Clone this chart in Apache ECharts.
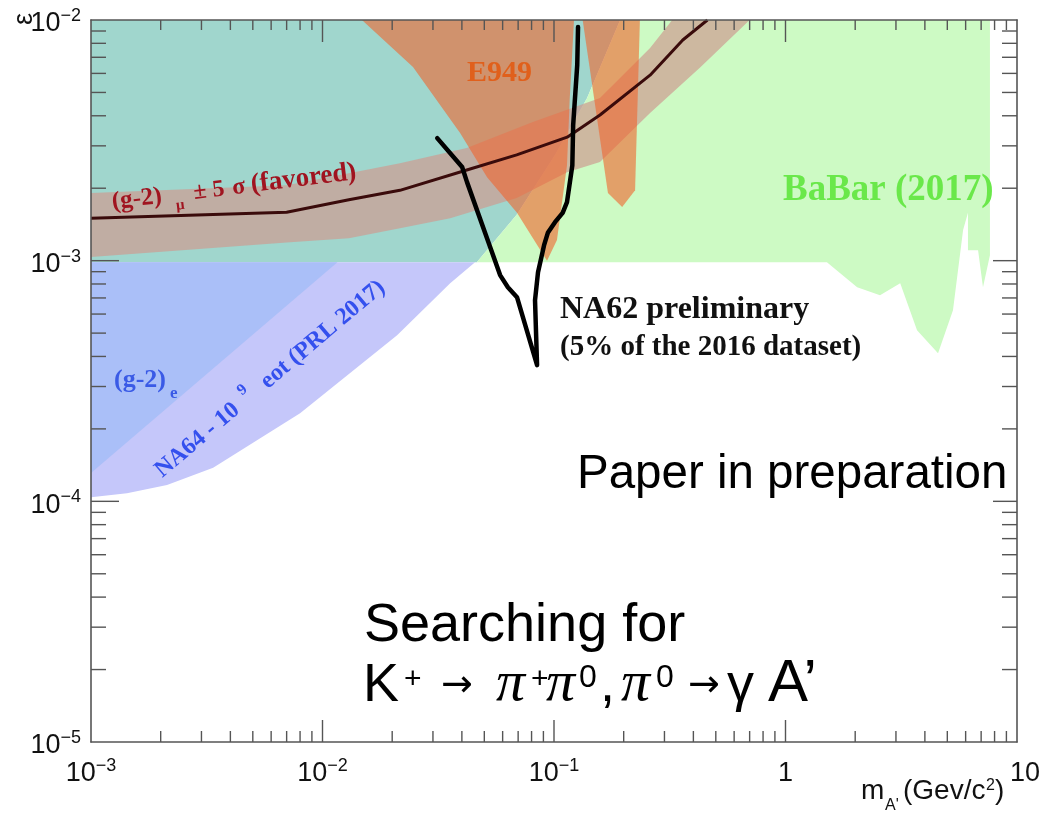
<!DOCTYPE html>
<html>
<head>
<meta charset="utf-8">
<script src="https://cdn.jsdelivr.net/npm/echarts@6/dist/echarts.min.js"></script>
<style>
  html, body { margin: 0; padding: 0; background: #ffffff; }
  #chart { width: 1051px; height: 814px; }
</style>
</head>
<body>
<div id="chart"></div>
<script>
// Dark photon search: kinetic mixing epsilon versus A' mass (GeV/c^2), log-log.

// ---- axes ----
const xRange = [1e-3, 10];
const yRange = [1e-5, 1e-2];
const xMajorTicks = [1e-3, 1e-2, 1e-1, 1, 10];
const xTickLabels = [['10', '−3'], ['10', '−2'], ['10', '−1'], ['1', ''], ['10', '']];
const yMajorTicks = [1e-5, 1e-4, 1e-3, 1e-2];
const yTickLabels = [['10', '−5'], ['10', '−4'], ['10', '−3'], ['10', '−2']];

// ---- excluded regions, [mass, epsilon] ----
const g2muExcluded = [[1e-3, 1e-2], [0.193, 1e-2], [0.139, 4.74e-3], [0.101, 2.75e-3],
  [0.069, 1.55e-3], [0.0464, 0.985e-3], [1e-3, 0.985e-3]];

const babar2017 = [[0.0464, 0.985e-3], [0.069, 1.55e-3], [0.101, 2.75e-3], [0.139, 4.74e-3],
  [0.193, 1e-2], [7.64, 1e-2], [7.64, 1.054e-3], [7.13, 7.76e-4], [6.79, 1.106e-3],
  [6.14, 1.106e-3], [6.14, 1.58e-3], [5.85, 1.34e-3], [5.29, 6.22e-4], [4.56, 4.12e-4],
  [3.70, 5.14e-4], [3.13, 8.06e-4], [2.56, 7.19e-4], [2.04, 7.76e-4], [1.51, 0.985e-3]];

const na64 = [[1e-3, 0.985e-3], [4.56e-2, 0.985e-3], [3.56e-2, 8.06e-4], [2.10e-2, 4.90e-4],
  [8.0e-3, 2.32e-4], [3.37e-3, 1.38e-4], [2.13e-3, 1.17e-4], [1.43e-3, 1.08e-4], [1e-3, 1.04e-4]];

const g2e = [[1e-3, 0.985e-3], [1.16e-2, 0.985e-3], [1e-3, 1.31e-4]];

const e949Main = [[1.48e-2, 1e-2], [2.46e-2, 6.38e-3], [3.93e-2, 3.39e-3], [5.14e-2, 2.22e-3],
  [6.92e-2, 1.58e-3], [9.33e-2, 1.0e-3], [0.103, 1.22e-3], [0.1138, 2.49e-3],
  [0.117, 4.74e-3], [0.122, 1e-2]];

const e949Narrow = [[0.133, 1e-2], [0.171, 1.91e-3], [0.197, 1.67e-3], [0.224, 1.96e-3], [0.235, 1e-2]];

// (g-2)_mu +-5 sigma favoured band and its central curve
const g2muBandUpper = [[1e-3, 1.91e-3], [7.0e-3, 2.06e-3], [1.3e-2, 2.31e-3], [2.16e-2, 2.54e-3],
  [4.2e-2, 2.94e-3], [8.1e-2, 3.77e-3], [0.158, 4.74e-3], [0.26, 7.65e-3], [0.324, 1e-2]];
const g2muBandLower = [[1e-3, 1.035e-3], [7.0e-3, 1.19e-3], [1.3e-2, 1.24e-3], [2.16e-2, 1.365e-3],
  [3.56e-2, 1.50e-3], [6.9e-2, 1.82e-3], [0.114, 2.33e-3], [0.158, 2.57e-3], [0.26, 4.11e-3],
  [0.43, 6.38e-3], [0.70, 1e-2]];
const g2muCentral = [[1e-3, 1.50e-3], [7.0e-3, 1.59e-3], [1.3e-2, 1.79e-3], [2.16e-2, 1.96e-3],
  [4.2e-2, 2.38e-3], [6.9e-2, 2.75e-3], [0.114, 3.26e-3], [0.158, 4.03e-3], [0.26, 5.90e-3],
  [0.36, 8.26e-3], [0.46, 1e-2]];

// NA62 preliminary upper limit
const na62Limit = [[3.13e-2, 3.23e-3], [4.01e-2, 2.45e-3], [4.21e-2, 2.12e-3], [5.35e-2, 1.11e-3],
  [5.85e-2, 8.71e-4], [6.32e-2, 7.76e-4], [6.92e-2, 7.05e-4], [8.45e-2, 3.68e-4],
  [8.28e-2, 6.85e-4], [8.53e-2, 8.96e-4], [9.06e-2, 1.16e-3], [9.42e-2, 1.31e-3],
  [0.101, 1.445e-3], [0.109, 1.58e-3], [0.1138, 1.75e-3], [0.120, 2.49e-3],
  [0.121, 3.66e-3], [0.126, 6.50e-3], [0.127, 9.35e-3]];

// ---- helpers ----
const SANS = 'Liberation Sans';
const SERIF = 'Liberation Serif';
const FRAME = '#555555';

function logTicks(range) {
  const out = [];
  const e0 = Math.round(Math.log10(range[0]));
  const e1 = Math.round(Math.log10(range[1]));
  for (let e = e0; e < e1; e++) {
    for (let m = 1; m <= 9; m++) {
      const v = m * Math.pow(10, e);
      if (v > range[0] && v < range[1]) out.push([v, m === 1 ? 1 : 0]);
    }
  }
  return out;
}

function regionSeries(name, pts, fill, z) {
  return {
    type: 'custom', name, coordinateSystem: 'cartesian2d', z, silent: true, clip: true,
    data: pts,
    renderItem(params, api) {
      if (params.dataIndex !== 0) return null;
      return { type: 'polygon', shape: { points: pts.map(p => api.coord(p)) }, style: { fill } };
    }
  };
}

function labelIndex(list, v) {
  return list.findIndex(t => Math.abs(Math.log10(t) - Math.log10(v)) < 1e-6);
}

function txt(x, base, text, size, o = {}) {
  return {
    type: 'text', x, y: base - 0.31 * size, rotation: o.rotation || 0, z: 50, silent: true,
    style: {
      text, fontSize: size, fontFamily: o.family || SANS, fontWeight: o.weight || 'normal',
      fontStyle: o.italic ? 'italic' : 'normal', fill: o.color || '#000',
      align: o.align || 'left', verticalAlign: 'middle'
    }
  };
}

const labelRich = {
  b: { fontSize: 27, lineHeight: 34, fontFamily: SANS, color: '#111' },
  s: { fontSize: 18, lineHeight: 18, fontFamily: SANS, color: '#111', verticalAlign: 'top' },
  r: { fontSize: 27, lineHeight: 34, fontFamily: SANS, color: '#111', padding: [0, 0, 0, 16] }
};

function fmt(list, labels, v) {
  const i = labelIndex(list, v);
  if (i < 0) return '';
  const p = labels[i];
  if (list === xMajorTicks && i === list.length - 1) return `{r|${p[0]}}`;
  return p[1] ? `{b|${p[0]}}{s|${p[1]}}` : `{b|${p[0]}}`;
}

const chart = echarts.init(document.getElementById('chart'), null, { renderer: 'canvas', width: 1051, height: 814 });

const band = g2muBandUpper.concat(g2muBandLower.slice().reverse());
const xTicks = logTicks(xRange);
const yTicks = logTicks(yRange);

const axisLine = { show: true, lineStyle: { color: FRAME, width: 1.6 } };
const E949_FILL = 'rgba(240,100,45,0.6)';
const G2MU_TEXT = '#a01420';
const NA64_TEXT = '#3450ee';

chart.setOption({
  animation: false,
  backgroundColor: '#ffffff',
  grid: { left: 91, top: 20, width: 926, height: 722 },
  xAxis: [
    {
      type: 'log', logBase: 10, min: xRange[0], max: xRange[1], position: 'bottom', z: 20,
      axisLine, axisTick: { show: false }, splitLine: { show: false }, minorTick: { show: false },
      axisLabel: { margin: 15, formatter: v => fmt(xMajorTicks, xTickLabels, v), rich: labelRich }
    },
    {
      type: 'log', logBase: 10, min: xRange[0], max: xRange[1], position: 'top', z: 20,
      axisLine, axisTick: { show: false }, splitLine: { show: false }, axisLabel: { show: false }
    }
  ],
  yAxis: [
    {
      type: 'log', logBase: 10, min: yRange[0], max: yRange[1], position: 'left', z: 20,
      axisLine, axisTick: { show: false }, splitLine: { show: false }, minorTick: { show: false },
      axisLabel: { margin: 10, padding: [8, 0, 0, 0], formatter: v => fmt(yMajorTicks, yTickLabels, v), rich: labelRich }
    },
    {
      type: 'log', logBase: 10, min: yRange[0], max: yRange[1], position: 'right', z: 20,
      axisLine, axisTick: { show: false }, splitLine: { show: false }, axisLabel: { show: false }
    }
  ],
  series: [
    regionSeries('(g-2)mu excluded', g2muExcluded, '#a0d6cd', 1),
    regionSeries('BaBar (2017)', babar2017, '#cdfac4', 1),
    regionSeries('NA64', na64, '#c5c7fa', 1),
    regionSeries('(g-2)e', g2e, '#aabff8', 1),
    regionSeries('(g-2)mu favoured', band, 'rgba(205,155,145,0.7)', 2),
    regionSeries('E949', e949Main, E949_FILL, 3),
    regionSeries('E949 narrow', e949Narrow, E949_FILL, 3),
    {
      type: 'line', name: '(g-2)mu central', data: g2muCentral, symbol: 'none', z: 4, silent: true,
      lineStyle: { color: '#3a0b0b', width: 3 }
    },
    {
      type: 'line', name: 'NA62 preliminary', data: na62Limit, symbol: 'none', z: 5, silent: true,
      lineStyle: { color: '#000000', width: 4.5, join: 'round', cap: 'round' }
    },
    // log ticks on the bottom and top edges, pointing inward
    {
      type: 'custom', coordinateSystem: 'cartesian2d', z: 21, silent: true, clip: false,
      data: xTicks.map(t => [t[0], yRange[0], t[1]]),
      renderItem(params, api) {
        const v = api.value(0), major = api.value(2) === 1;
        const b = api.coord([v, yRange[0]]), t = api.coord([v, yRange[1]]);
        const st = { stroke: FRAME, lineWidth: 1.4 };
        return {
          type: 'group', children: [
            { type: 'line', shape: { x1: b[0], y1: b[1], x2: b[0], y2: b[1] - (major ? 22 : 11) }, style: st },
            { type: 'line', shape: { x1: t[0], y1: t[1], x2: t[0], y2: t[1] + (major ? 22 : 10) }, style: st }
          ]
        };
      }
    },
    // log ticks on the left and right edges, pointing inward
    {
      type: 'custom', coordinateSystem: 'cartesian2d', z: 21, silent: true, clip: false,
      data: yTicks.map(t => [xRange[0], t[0], t[1]]),
      renderItem(params, api) {
        const v = api.value(1), major = api.value(2) === 1;
        const l = api.coord([xRange[0], v]), r = api.coord([xRange[1], v]);
        const st = { stroke: FRAME, lineWidth: 1.4 };
        return {
          type: 'group', children: [
            { type: 'line', shape: { x1: l[0], y1: l[1], x2: l[0] + (major ? 28 : 15), y2: l[1] }, style: st },
            { type: 'line', shape: { x1: r[0], y1: r[1], x2: r[0] - (major ? 24 : 15), y2: r[1] }, style: st }
          ]
        };
      }
    }
  ],
  graphic: [
    // y-axis title
    { type: 'text', x: 25, y: 19, rotation: Math.PI / 2, z: 50, silent: true,
      style: { text: 'ε', fontSize: 27, fontFamily: SANS, fill: '#111', align: 'center', verticalAlign: 'middle' } },
    // x-axis title
    txt(861, 800, 'm', 28, { color: '#111' }),
    txt(885, 811, 'A\'', 16, { color: '#111' }),
    txt(903, 800, '(Gev/c', 28, { color: '#111' }),
    txt(986, 791, '2', 16, { color: '#111' }),
    txt(995, 800, ')', 28, { color: '#111' }),

    // region labels
    txt(467, 83, 'E949', 30, { family: SERIF, weight: 'bold', color: '#e0601c' }),
    txt(783, 202, 'BaBar (2017)', 37, { family: SERIF, weight: 'bold', color: '#6ae84a' }),
    txt(560, 320, 'NA62 preliminary', 32, { family: SERIF, weight: 'bold', color: '#111' }),
    txt(560, 357, '(5% of the 2016 dataset)', 29, { family: SERIF, weight: 'bold', color: '#111' }),
    txt(114, 388, '(g-2)', 26, { family: SERIF, weight: 'bold', color: '#3a5ae6' }),
    txt(170, 399, 'e', 17, { family: SERIF, weight: 'bold', color: '#3a5ae6' }),
    {
      type: 'group', x: 113, y: 210, rotation: 0.12, z: 50, silent: true,
      children: [
        txt(0, 0, '(g-2)', 25, { family: SERIF, weight: 'bold', color: G2MU_TEXT }),
        txt(63, 8, 'μ', 15, { family: SERIF, weight: 'bold', color: G2MU_TEXT }),
        txt(82, 0, '±', 24, { family: SERIF, weight: 'bold', color: G2MU_TEXT }),
        txt(101, 0, '5', 24, { family: SERIF, weight: 'bold', color: G2MU_TEXT }),
        txt(121, 0, 'σ', 24, { family: SERIF, weight: 'bold', color: G2MU_TEXT }),
        txt(140, 0, '(favored)', 27, { family: SERIF, weight: 'bold', color: G2MU_TEXT })
      ]
    },
    {
      type: 'group', x: 163, y: 479, rotation: 0.70, z: 50, silent: true,
      children: [
        txt(0, 0, 'NA64 - 10', 24, { family: SERIF, weight: 'bold', color: NA64_TEXT }),
        txt(114, -12, '9', 16, { family: SERIF, weight: 'bold', color: NA64_TEXT }),
        txt(138, 0, 'eot (PRL 2017)', 24, { family: SERIF, weight: 'bold', color: NA64_TEXT })
      ]
    },

    // overlaid notes
    txt(577, 490, 'Paper in preparation', 47.5),
    txt(364, 643, 'Searching for', 54),
    txt(363, 703, 'K', 54),
    txt(404, 689, '+', 30),
    txt(441, 698, '→', 38, { family: 'DejaVu Sans' }),
    txt(496, 703, 'π', 58, { family: SERIF, italic: true }),
    txt(531, 689, '+', 30),
    txt(546, 703, 'π', 58, { family: SERIF, italic: true }),
    txt(579, 688, '0', 32),
    txt(600, 703, ',', 54),
    txt(621, 703, 'π', 58, { family: SERIF, italic: true }),
    txt(656, 688, '0', 32),
    txt(688, 698, '→', 38, { family: 'DejaVu Sans' }),
    txt(727, 703, 'γ', 54),
    txt(768, 703, 'A’', 60)
  ]
});
</script>
</body>
</html>
